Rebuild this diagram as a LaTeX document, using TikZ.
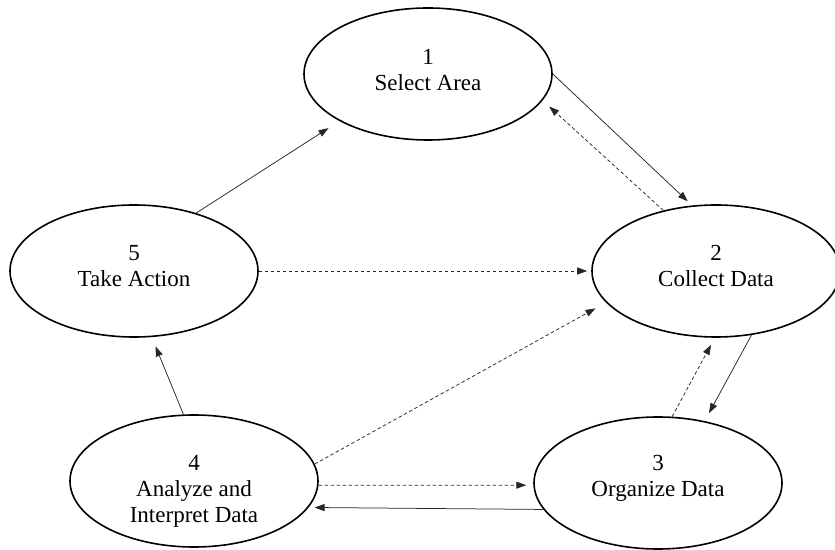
\documentclass[tikz,border=0pt]{standalone}
\usepackage{fontspec}
\setmainfont{Liberation Serif}
\usetikzlibrary{shapes.geometric,arrows.meta}

\begin{document}
\begin{tikzpicture}[x=1pt,y=1pt,
  stage/.style={ellipse,draw,line width=1.6pt,minimum width=248pt,minimum height=132pt,inner sep=0pt},
  caption/.style={align=center,font=\fontsize{23}{26}\selectfont,inner sep=0pt},
  link/.style={line width=0.75pt,draw=black!85,-{Triangle[length=10pt,width=7pt]}},
  back/.style={link,dash pattern=on 3.5pt off 2.5pt}]
  \useasboundingbox (0,0) rectangle (835,549);

  % the five stages of the cycle
  \node[stage] (e1) at (428,475) {};
  \node[stage] (e2) at (716,278) {};
  \node[stage] (e3) at (658,66) {};
  \node[stage] (e4) at (194,68) {};
  \node[stage] (e5) at (134,278) {};

  \node[caption] (t1) at ([yshift=4]e1.center) {1\\Select Area};
  \node[caption] (t2) at ([yshift=5]e2.center) {2\\Collect Data};
  \node[caption] (t3) at ([yshift=5]e3.center) {3\\Organize Data};
  \node[caption] (t4) at ([yshift=-10]e4.center) {4\\Analyze and\\Interpret Data};
  \node[caption] (t5) at ([yshift=5]e5.center) {5\\Take Action};

  % forward steps
  \draw[link,shorten >=13pt] (e5.43) -- (e1.208);
  \draw[link,shorten >=6pt] (e1.0) -- (e2.110);
  \draw[link,shorten >=9pt] (e2.-61) -- (e3.53.7);
  \draw[link,shorten >=6pt] (e3.193.4) -- (e4.-13.2);
  \draw[link,shorten >=10pt] (e4.99.5) -- (e5.-75.8);

  % feedback paths
  \draw[back,shorten >=9pt] (e2.131) -- (e1.-13);
  \draw[back,shorten >=4pt] (e5.0) -- (e2.180);
  \draw[back,shorten >=12pt] (e4.8.6) -- (e2.196.2);
  \draw[back,shorten >=8pt] (e3.78) -- (e2.-91);
  \draw[back,shorten >=7pt] (e4.-2) -- (e3.181);
\end{tikzpicture}
\end{document}
